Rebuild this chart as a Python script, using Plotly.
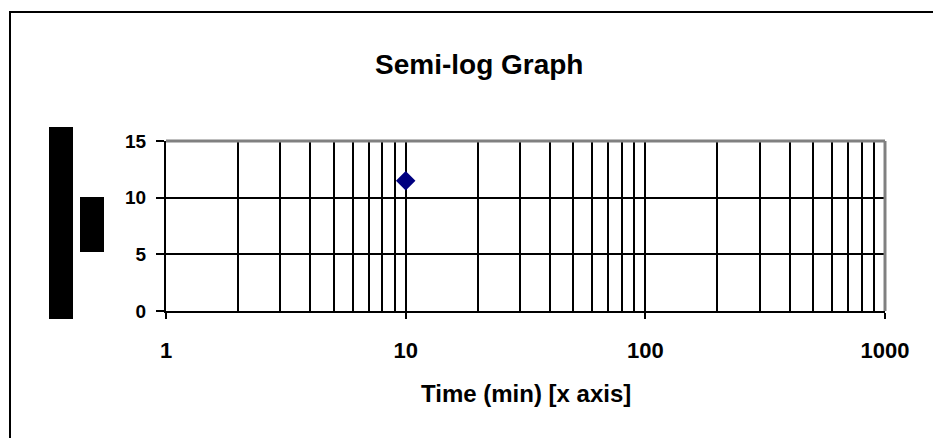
import plotly.graph_objects as go

# Data
time_min = [10]
y_values = [11.5]
x_tick_vals = [1, 10, 100, 1000]
x_tick_text = ["1", "10", "100", "1000"]
y_tick_vals = [0, 5, 10, 15]
y_tick_text = ["0", "5", "10", "15"]
minor_x = [m * d for d in (1, 10, 100) for m in range(2, 10)]

W, H = 933, 438
L, R, T, B = 166, 885, 141, 311
pw, ph = R - L, B - T

def px(x):
    return (x - L) / pw

def py(y):
    return (B - y) / ph

fig = go.Figure()
fig.add_trace(go.Scatter(
    x=time_min, y=y_values, mode="markers",
    marker=dict(symbol="diamond", size=15, color="#000080"),
    showlegend=False, cliponaxis=False,
))

font = "Liberation Sans, Arial, sans-serif"
fig.update_layout(
    width=W, height=H,
    margin=dict(l=L, r=W - R, t=T, b=H - B),
    paper_bgcolor="white", plot_bgcolor="white",
    font=dict(family=font, color="black", size=16),
    xaxis=dict(
        type="log", range=[0, 3],
        tickvals=x_tick_vals, ticktext=[f"<b>{t}</b>" for t in x_tick_text],
        tickfont=dict(size=22, family=font, color="black"),
        showgrid=True, gridcolor="black", gridwidth=2,
        minor=dict(tickvals=minor_x, showgrid=True, gridcolor="black",
                   gridwidth=2, ticks=""),
        showline=True, linecolor="black", linewidth=2,
        ticks="outside", ticklen=6, tickwidth=2, tickcolor="black",
        ticklabelstandoff=13, zeroline=False,
    ),
    yaxis=dict(
        range=[0, 15], tickvals=y_tick_vals,
        ticktext=[f"<b>{t}</b>" for t in y_tick_text],
        tickfont=dict(size=19, family=font, color="black"),
        showgrid=True, gridcolor="black", gridwidth=2,
        showline=True, linecolor="black", linewidth=2,
        ticks="outside", ticklen=8, tickwidth=2, tickcolor="black",
        ticklabelstandoff=6, zeroline=False,
    ),
    shapes=[
        # outer chart border
        dict(type="rect", xref="paper", yref="paper",
             x0=px(10), x1=px(945), y0=py(450), y1=py(12),
             line=dict(color="black", width=2), layer="below"),
        # plot area top/right border (gray)
        dict(type="line", xref="paper", yref="paper",
             x0=0, x1=1, y0=1, y1=1,
             line=dict(color="#808080", width=3), layer="above"),
        dict(type="line", xref="paper", yref="paper",
             x0=1, x1=1, y0=0, y1=1,
             line=dict(color="#808080", width=3), layer="above"),
        # black blocks (y-axis title remnants)
        dict(type="rect", xref="paper", yref="paper",
             x0=px(49), x1=px(73), y0=py(319), y1=py(127),
             fillcolor="black", line=dict(width=0)),
        dict(type="rect", xref="paper", yref="paper",
             x0=px(80), x1=px(104), y0=py(252), y1=py(197),
             fillcolor="black", line=dict(width=0)),
    ],
    annotations=[
        dict(text="<b>Semi-log Graph</b>", xref="paper", yref="paper",
             x=px(479), y=py(64), showarrow=False,
             font=dict(size=28, family=font, color="black"),
             xanchor="center", yanchor="middle"),
        dict(text="<b>Time (min) [x axis]</b>", xref="paper", yref="paper",
             x=px(526), y=py(393), showarrow=False,
             font=dict(size=24, family=font, color="black"),
             xanchor="center", yanchor="middle"),
    ],
)

fig.write_html("out.html")
